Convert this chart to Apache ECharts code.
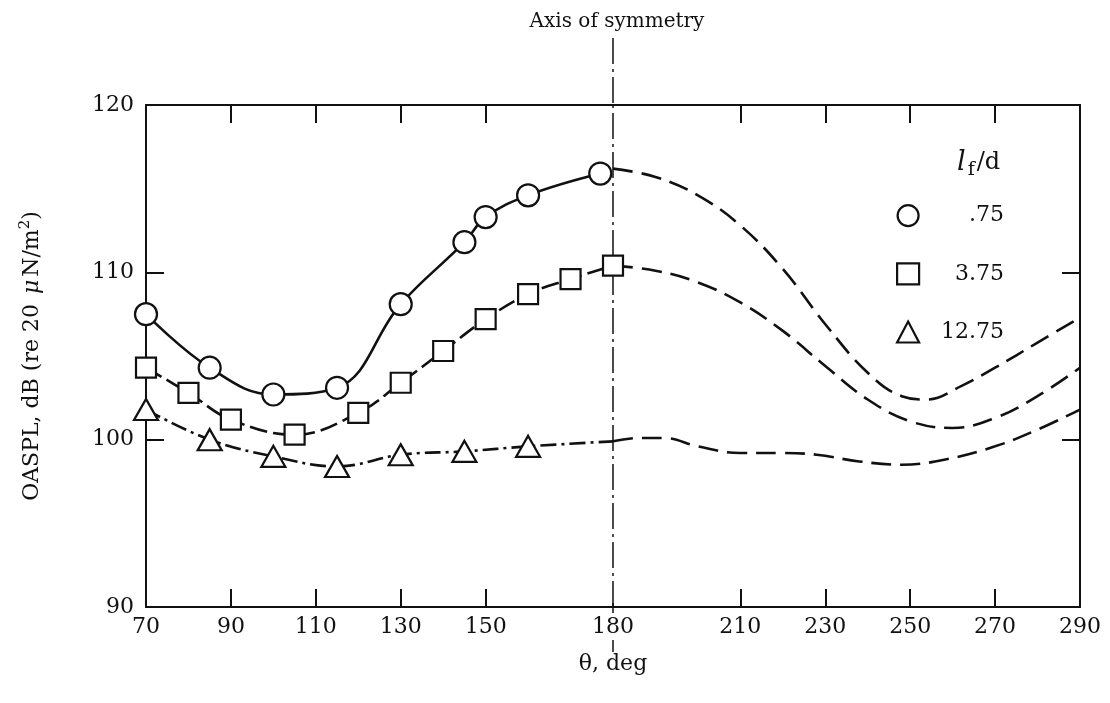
<!DOCTYPE html>
<html>
<head>
<meta charset="utf-8">
<script src="https://cdn.jsdelivr.net/npm/echarts@6/dist/echarts.min.js"></script>
<style>
  html, body { margin: 0; padding: 0; background: #fff; }
  #chart { width: 1110px; height: 703px; }
</style>
</head>
<body>
<div id="chart"></div>
<script>
// Directivity angle tick labels and tick marks (deg)
const thetaLabels = [70, 90, 110, 130, 150, 180, 210, 230, 250, 270, 290];
const thetaTicks = [90, 110, 130, 150, 210, 230, 250, 270];
const symmetryAngle = 180;

// Fan-to-nozzle spacing l_f/d cases
const spacingNames = ['.75', '3.75', '12.75'];

// Measured OASPL (dB), l_f/d = .75
const measured075 = [
  [70, 107.5], [85, 104.3], [100, 102.7], [115, 103.1], [130, 108.1],
  [145, 111.8], [150, 113.3], [160, 114.6], [177, 115.9]
];
// Measured OASPL (dB), l_f/d = 3.75
const measured375 = [
  [70, 104.3], [80, 102.8], [90, 101.2], [105, 100.3], [120, 101.6],
  [130, 103.4], [140, 105.3], [150, 107.2], [160, 108.7], [170, 109.6], [180, 110.4]
];
// Measured OASPL (dB), l_f/d = 12.75
const measured1275 = [
  [70, 101.8], [85, 100.0], [100, 99.0], [115, 98.4], [130, 99.1],
  [145, 99.3], [160, 99.6]
];
// Faired end of the 12.75 curve at the symmetry axis
const faired1275End = [180, 99.9];

// Reflected curves beyond the axis of symmetry
const reflected075 = [
  [180, 116.2], [190, 115.7], [200, 114.6], [210, 112.8], [220, 110.2],
  [230, 106.9], [240, 104.0], [248, 102.6], [254, 102.4], [262, 103.2],
  [270, 104.3], [280, 105.8], [290, 107.3]
];
const reflected375 = [
  [180, 110.4], [190, 110.1], [200, 109.4], [210, 108.2], [220, 106.5],
  [230, 104.4], [240, 102.4], [250, 101.1], [260, 100.7], [270, 101.3],
  [280, 102.6], [290, 104.3]
];
const reflected1275 = [
  [180, 99.9], [186, 100.1], [192, 100.1], [200, 99.6], [210, 99.2],
  [220, 99.2], [228, 99.1], [238, 98.7], [248, 98.5], [258, 98.8],
  [270, 99.6], [280, 100.6], [290, 101.8]
];

// OASPL axis
const yMin = 90, yMax = 120, yStep = 10;
const yInnerTicks = [100, 110];

const FONT = '"DejaVu Serif", "Liberation Serif", serif';
const INK = '#111';

const chart = echarts.init(document.getElementById('chart'), null, { renderer: 'canvas' });

const markerStyle = { color: '#fff', borderColor: INK, borderWidth: 2.2 };

const option = {
  backgroundColor: '#fff',
  animation: false,
  textStyle: { fontFamily: FONT, color: INK },
  title: [
    {
      text: 'Axis of symmetry',
      left: 612, top: 7, textAlign: 'center',
      textStyle: { fontFamily: FONT, fontSize: 20, fontWeight: 'normal', color: INK }
    },
    {
      text: '{l|l}{f|f}{d|/d}',
      left: 952, top: 140,
      textStyle: {
        fontFamily: FONT, fontSize: 24, fontWeight: 'normal', color: INK,
        rich: {
          l: { fontFamily: FONT, fontStyle: 'italic', fontSize: 27, color: INK },
          f: { fontFamily: FONT, fontSize: 19, color: INK, verticalAlign: 'bottom', padding: [16, 2, 0, 2] },
          d: { fontFamily: FONT, fontSize: 24, color: INK }
        }
      }
    }
  ],
  legend: {
    orient: 'vertical',
    left: 891, top: 199,
    itemWidth: 22, itemHeight: 21, itemGap: 35,
    selectedMode: false,
    formatter: name => '{v|' + name + '}',
    textStyle: {
      fontFamily: FONT, fontSize: 22, color: INK,
      rich: { v: { width: 80, align: 'right', fontFamily: FONT, fontSize: 22, color: INK } }
    },
    data: [
      { name: spacingNames[0], icon: 'circle', itemStyle: markerStyle },
      { name: spacingNames[1], icon: 'rect', itemStyle: markerStyle },
      { name: spacingNames[2], icon: 'triangle', itemStyle: markerStyle }
    ]
  },
  grid: { left: 146, right: 30, top: 105, bottom: 96 },
  xAxis: [
    {
      type: 'value', min: 70, max: 290, position: 'bottom',
      name: 'θ, deg', nameLocation: 'middle', nameGap: 46,
      nameTextStyle: { fontFamily: FONT, fontSize: 22, color: INK },
      axisLine: { lineStyle: { color: INK, width: 2 } },
      axisTick: { inside: true, length: 18, customValues: thetaTicks, lineStyle: { color: INK, width: 2 } },
      axisLabel: { customValues: thetaLabels, margin: 9, fontFamily: FONT, fontSize: 22, color: INK },
      splitLine: { show: false }
    },
    {
      type: 'value', min: 70, max: 290, position: 'top',
      axisLine: { lineStyle: { color: INK, width: 2 } },
      axisTick: { inside: true, length: 18, customValues: thetaTicks, lineStyle: { color: INK, width: 2 } },
      axisLabel: { show: false },
      splitLine: { show: false }
    }
  ],
  yAxis: [
    {
      type: 'value', min: yMin, max: yMax, interval: yStep, position: 'left',
      name: '{t|OASPL, dB (re 20 }{mu|μ}{t|N/m}{sup|2}{t|)}',
      nameLocation: 'middle', nameGap: 100, nameRotate: 90,
      nameTextStyle: {
        fontFamily: FONT, fontSize: 22, color: INK,
        rich: {
          t: { fontFamily: FONT, fontSize: 22, color: INK },
          mu: { fontFamily: FONT, fontStyle: 'italic', fontSize: 22, color: INK, padding: [0, 3, 0, 3] },
          sup: { fontFamily: FONT, fontSize: 15, color: INK, verticalAlign: 'top', padding: [0, 0, 13, 0] }
        }
      },
      axisLine: { show: true, lineStyle: { color: INK, width: 2 } },
      axisTick: { inside: true, length: 18, customValues: yInnerTicks, lineStyle: { color: INK, width: 2 } },
      axisLabel: { margin: 12, fontFamily: FONT, fontSize: 22, color: INK },
      splitLine: { show: false }
    },
    {
      type: 'value', min: yMin, max: yMax, interval: yStep, position: 'right',
      axisLine: { show: true, lineStyle: { color: INK, width: 2 } },
      axisTick: { inside: true, length: 18, customValues: yInnerTicks, lineStyle: { color: INK, width: 2 } },
      axisLabel: { show: false },
      splitLine: { show: false }
    }
  ],
  series: [
    {
      name: spacingNames[0], type: 'line', data: measured075, smooth: 0.4,
      symbol: 'circle', symbolSize: 22, itemStyle: markerStyle,
      lineStyle: { color: INK, width: 2.6, type: 'solid' }, z: 5
    },
    {
      name: spacingNames[1], type: 'line', data: measured375, smooth: 0.4,
      symbol: 'rect', symbolSize: 20, itemStyle: markerStyle,
      lineStyle: { color: INK, width: 2.6, type: [18, 6] }, z: 5
    },
    {
      name: spacingNames[2], type: 'line',
      data: measured1275.concat([{ value: faired1275End, symbol: 'none' }]),
      smooth: 0.4,
      symbol: 'triangle', symbolSize: [24, 21], itemStyle: markerStyle,
      lineStyle: { color: INK, width: 2.6, type: [16, 5, 3, 5] }, z: 5
    },
    {
      name: 'reflected .75', type: 'line', data: reflected075, smooth: 0.4, showSymbol: false,
      lineStyle: { color: INK, width: 2.6, type: [20, 9] }, z: 4
    },
    {
      name: 'reflected 3.75', type: 'line', data: reflected375, smooth: 0.4, showSymbol: false,
      lineStyle: { color: INK, width: 2.6, type: [20, 9] }, z: 4
    },
    {
      name: 'reflected 12.75', type: 'line', data: reflected1275, smooth: 0.4, showSymbol: false,
      lineStyle: { color: INK, width: 2.6, type: [20, 9] }, z: 4
    },
    {
      // axis of symmetry inside the plot frame
      name: 'symmetry', type: 'line', data: [], silent: true,
      markLine: {
        silent: true, symbol: 'none', label: { show: false },
        lineStyle: { color: INK, width: 1.5, type: [26, 5, 3, 5] },
        data: [{ xAxis: symmetryAngle }]
      }
    }
  ]
};

chart.setOption(option);

// Extend the axis of symmetry past the frame, above to the title and below the axis labels
const sx = chart.convertToPixel({ xAxisIndex: 0 }, symmetryAngle);
const topY = chart.convertToPixel({ yAxisIndex: 0 }, yMax);
const botY = chart.convertToPixel({ yAxisIndex: 0 }, yMin);
chart.setOption({
  graphic: [
    {
      type: 'line', silent: true,
      shape: { x1: sx, y1: 38, x2: sx, y2: topY },
      style: { stroke: INK, lineWidth: 1.5, lineDash: [26, 5, 3, 5] }
    },
    {
      type: 'line', silent: true,
      shape: { x1: sx - 5, y1: botY, x2: sx + 5, y2: botY },
      style: { stroke: INK, lineWidth: 1.5 }
    },
    {
      type: 'line', silent: true,
      shape: { x1: sx, y1: botY - 4, x2: sx, y2: botY + 6 },
      style: { stroke: INK, lineWidth: 1.5 }
    },
    {
      type: 'line', silent: true,
      shape: { x1: sx, y1: botY + 33, x2: sx, y2: botY + 45 },
      style: { stroke: INK, lineWidth: 1.5 }
    }
  ]
});
</script>
</body>
</html>
